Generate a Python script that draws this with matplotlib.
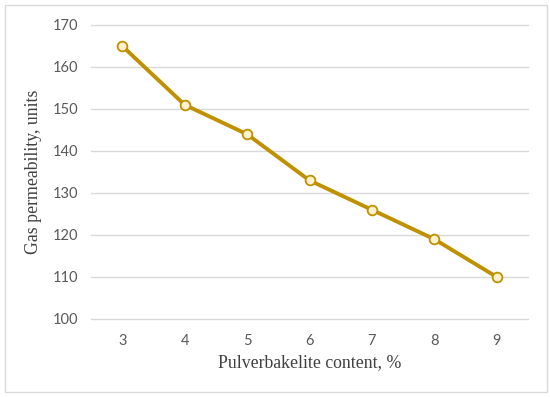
import matplotlib.pyplot as plt
from matplotlib.patches import Rectangle

# data
content = [3, 4, 5, 6, 7, 8, 9]
permeability = [165, 151, 144, 133, 126, 119, 110]
yticks = [100, 110, 120, 130, 140, 150, 160, 170]

gold = "#BF9000"

fig = plt.figure(figsize=(5.5, 3.97), dpi=100)
ax = fig.add_axes([91 / 550, 1 - 319 / 397, (528 - 91) / 550, (319 - 25) / 397])

ax.plot(range(len(content)), permeability, color=gold, linewidth=2.8,
        marker="o", markersize=7, markerfacecolor="#FFF2CC",
        markeredgecolor=gold, markeredgewidth=1.3, zorder=3)

ax.set_xlim(-0.5, len(content) - 0.5)
ax.set_ylim(100, 170)
ax.set_xticks(range(len(content)))
ax.set_xticklabels([str(c) for c in content])
ax.set_yticks(yticks)
ax.grid(axis="y", color="#D9D9D9", linewidth=1)
for gl in ax.get_ygridlines():
    gl.set_clip_on(False)
ax.set_axisbelow(True)
for s in ax.spines.values():
    s.set_visible(False)
ax.tick_params(length=0, labelsize=10.5, labelcolor="#595959")
ax.tick_params(axis="x", pad=11)
ax.tick_params(axis="y", pad=9)
for lab in ax.get_xticklabels() + ax.get_yticklabels():
    lab.set_family("Lato")

ax.set_xlabel("Pulverbakelite content, %", family="Liberation Serif",
              fontsize=12.8, color="#404040", labelpad=4)
ax.set_ylabel("Gas permeability, units", family="Liberation Serif",
              fontsize=12.8, color="#404040", labelpad=8)

# figure border
fig.patches.append(Rectangle((5 / 550, 5 / 397), 542 / 550, 387 / 397,
                             transform=fig.transFigure, fill=False,
                             edgecolor="#D9D9D9", linewidth=1))

fig.savefig("out.png", dpi=100)
